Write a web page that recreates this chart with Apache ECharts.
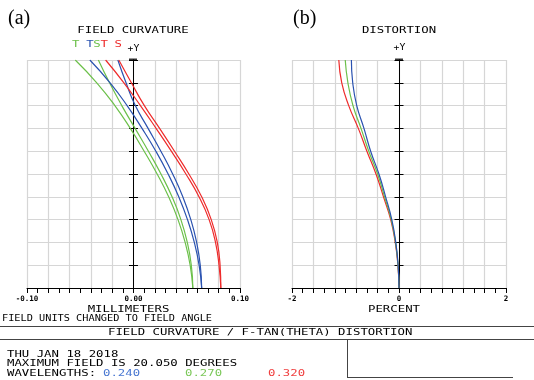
<!DOCTYPE html>
<html><head><meta charset="utf-8">
<script src="https://cdn.jsdelivr.net/npm/echarts@6/dist/echarts.min.js"></script>
<style>html,body{margin:0;padding:0;background:#fff}#c{width:534px;height:380px}</style>
</head><body><div id="c"></div>
<script>
// ---- data ----
const fields = [0, 2.005, 4.01, 6.015, 8.02, 10.025, 12.03, 14.035, 16.04, 18.045, 20.05];
// field curvature (mm), per field level
const greenT = [0.0557, 0.0532, 0.0485, 0.0418, 0.0330, 0.0222, 0.0100, -0.0030, -0.0175, -0.0345, -0.0547];
const greenS = [0.0557, 0.0543, 0.0505, 0.0445, 0.0362, 0.0258, 0.0140, 0.0015, -0.0110, -0.0225, -0.0330];
const blueT  = [0.0640, 0.0616, 0.0571, 0.0507, 0.0425, 0.0325, 0.0210, 0.0080, -0.0060, -0.0220, -0.0410];
const blueS  = [0.0640, 0.0627, 0.0593, 0.0538, 0.0463, 0.0368, 0.0257, 0.0137, 0.0017, -0.0070, -0.0147];
const redT   = [0.0820, 0.0803, 0.0770, 0.0710, 0.0615, 0.0492, 0.0355, 0.0212, 0.0065, -0.0090, -0.0262];
const redS   = [0.0820, 0.0813, 0.0787, 0.0730, 0.0640, 0.0520, 0.0385, 0.0245, 0.0102, -0.0020, -0.0138];
// distortion (percent)
const distRed   = [0, -0.020, -0.070, -0.155, -0.290, -0.430, -0.600, -0.760, -0.940, -1.070, -1.125];
const distGreen = [0, -0.018, -0.065, -0.145, -0.270, -0.400, -0.565, -0.710, -0.860, -0.955, -1.005];
const distBlue  = [0, -0.016, -0.060, -0.135, -0.250, -0.375, -0.530, -0.655, -0.790, -0.865, -0.890];
// tick labels
const curvTickValues = [-0.1, 0, 0.1];
const curvTickLabels = ['-0.10', '0.00', '0.10'];
const distTickValues = [-2, 0, 2];
const distTickLabels = ['-2', '0', '2'];
const wavelengths = ['0.240', '0.270', '0.320'];

const RED = '#ee2b2b', GREEN = '#6cc04a', BLUE = '#2a52b0';
const TXT_BLUE = '#4a78d2', TXT_GREEN = '#7cc85a', TXT_RED = '#f04040';
const MONO = 'DejaVu Sans Mono';
const GRIDC = '#d6d6d6';

function pairs(xs) { return fields.map((f, i) => [xs[i], f]); }
function fmt(values, labels) {
  return v => { for (let i = 0; i < values.length; i++) if (Math.abs(v - values[i]) < 1e-9) return labels[i]; return ''; };
}
function xAx(grid, min, max, interval, values, labels) {
  return {
    gridIndex: grid, type: 'value', min, max, interval,
    axisLine: { onZero: false, lineStyle: { color: '#000', width: 1 } },
    axisTick: { show: true, length: 5, lineStyle: { color: '#000', width: 1 } },
    minorTick: { show: true, splitNumber: 2, length: 5, lineStyle: { color: '#000', width: 1 } },
    splitLine: { show: true, lineStyle: { color: GRIDC, width: 1.2 } },
    axisLabel: { formatter: fmt(values, labels), margin: 7, fontFamily: MONO, fontWeight: 'bold', fontSize: 7.5, color: '#000', showMinLabel: true, showMaxLabel: true, hideOverlap: false }
  };
}
function yAx(grid, pos, split) {
  return {
    gridIndex: grid, type: 'value', min: 0, max: 20.05, interval: 2.005, position: pos,
    axisLine: { show: true, onZero: true, onZeroAxisIndex: grid, lineStyle: { color: '#000', width: 1 } },
    axisTick: { show: true, length: 4.5, inside: false, lineStyle: { color: '#000', width: 1 } },
    axisLabel: { show: false },
    splitLine: { show: split, lineStyle: { color: GRIDC, width: 1.2 } }
  };
}
function ln(name, x, y, data, color) {
  return { name, type: 'line', xAxisIndex: x, yAxisIndex: y, data, smooth: 0.5, showSymbol: false, symbol: 'none',
    lineStyle: { color, width: 1.2 }, itemStyle: { color }, silent: true, animation: false };
}
function txt(s, x, y, opts) {
  opts = opts || {};
  return { type: 'text', x, y, scaleX: opts.sx || 1.37, scaleY: 1, silent: true,
    style: { text: s, font: (opts.fw || '') + ' ' + (opts.fs || 9) + 'px "' + (opts.ff || MONO) + '"', fill: opts.c || '#000',
      textAlign: opts.al || 'left', textVerticalAlign: 'top' } };
}
function line(x1, y1, x2, y2) {
  return { type: 'line', silent: true, shape: { x1, y1, x2, y2 }, style: { stroke: '#444', lineWidth: 1 } };
}

const chart = echarts.init(document.getElementById('c'), null, { renderer: 'canvas' });
const legendChars = [['T', GREEN], [' ', null], ['T', BLUE], ['S', GREEN], ['T', RED], [' ', null], ['S', RED]];
const graphics = [
  txt('(a)', 8, 9, { ff: 'Liberation Serif', fs: 20, sx: 1 }),
  txt('(b)', 293, 9, { ff: 'Liberation Serif', fs: 20, sx: 1 }),
  txt('FIELD CURVATURE', 133, 26, { al: 'center' }),
  txt('DISTORTION', 399, 26, { al: 'center' }),
  txt('+Y', 133.5, 44, { al: 'center', fs: 8.5, sx: 1.15 }),
  txt('+Y', 399.5, 43, { al: 'center', fs: 8.5, sx: 1.15 }),
  { type: 'rect', silent: true, shape: { x: 129, y: 58.5, width: 8, height: 2.5 }, style: { fill: '#333' } },
  { type: 'rect', silent: true, shape: { x: 395, y: 58.5, width: 8, height: 2.5 }, style: { fill: '#333' } },
  txt('MILLIMETERS', 128.5, 305, { al: 'center' }),
  txt('PERCENT', 394, 305, { al: 'center' }),
  txt('FIELD UNITS CHANGED TO FIELD ANGLE', 2, 314, { sx: 1.14 }),
  line(0, 326.5, 534, 326.5),
  txt('FIELD CURVATURE / F-TAN(THETA) DISTORTION', 108, 328),
  line(0, 339.5, 534, 339.5),
  line(347.5, 339.5, 347.5, 378),
  line(347.5, 377.5, 513, 377.5),
  txt('THU JAN 18 2018', 7, 350),
  txt('MAXIMUM FIELD IS 20.050 DEGREES', 7, 359.5),
  txt('WAVELENGTHS:', 7, 369),
  txt(wavelengths[0], 103, 369, { c: TXT_BLUE }),
  txt(wavelengths[1], 185, 369, { c: TXT_GREEN }),
  txt(wavelengths[2], 268, 369, { c: TXT_RED })
];
legendChars.forEach((lc, i) => { if (lc[1]) graphics.push(txt(lc[0], 72 + i * 7.1, 40, { c: lc[1] })); });

chart.setOption({
  animation: false,
  backgroundColor: '#fff',
  grid: [
    { left: 27, top: 60, width: 213, height: 228, containLabel: false },
    { left: 292, top: 60, width: 214, height: 228, containLabel: false }
  ],
  xAxis: [
    xAx(0, -0.1, 0.1, 0.02, curvTickValues, curvTickLabels),
    xAx(1, -2, 2, 0.4, distTickValues, distTickLabels)
  ],
  yAxis: [
    yAx(0, 'left', true), yAx(0, 'right', false),
    yAx(1, 'left', true), yAx(1, 'right', false)
  ],
  series: [
    ln('green T', 0, 0, pairs(greenT), GREEN),
    ln('green S', 0, 0, pairs(greenS), GREEN),
    ln('blue T', 0, 0, pairs(blueT), BLUE),
    ln('blue S', 0, 0, pairs(blueS), BLUE),
    ln('red T', 0, 0, pairs(redT), RED),
    ln('red S', 0, 0, pairs(redS), RED),
    ln('dist red', 1, 2, pairs(distRed), RED),
    ln('dist green', 1, 2, pairs(distGreen), GREEN),
    ln('dist blue', 1, 2, pairs(distBlue), BLUE)
  ],
  graphic: graphics
});
</script>
</body></html>
